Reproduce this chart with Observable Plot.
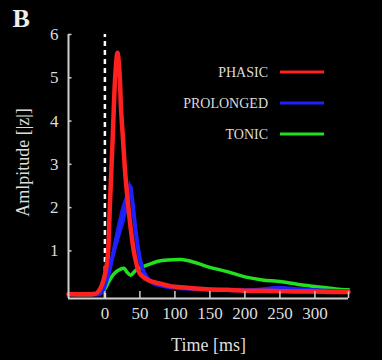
<!DOCTYPE html>
<html>
<head>
<meta charset="utf-8">
<script src="https://cdn.jsdelivr.net/npm/d3@7"></script>
<script src="https://cdn.jsdelivr.net/npm/@observablehq/plot@0.6"></script>
<style>
  html, body { margin: 0; padding: 0; background: #000; }
  #chart { width: 382px; height: 360px; overflow: hidden; }
  svg { display: block; }
</style>
</head>
<body>
<div id="chart"></div>
<script>
const phasicTime = [-52,-20,-12,-6,0,4,7,11,15,18,21,23,26,29,33,37,43,50,58,65,80,95,110,130,150,175,200,225,250,275,300,325,348];
const phasicValue = [0,0,0.02,0.15,0.45,0.85,2.0,3.55,5.1,5.58,5.1,4.3,3.55,2.8,2.1,1.5,0.85,0.47,0.36,0.3,0.24,0.18,0.16,0.13,0.11,0.1,0.08,0.08,0.07,0.06,0.06,0.05,0.05];
const prolongedTime = [-52,-20,-8,-3,0,5,10,15,20,25,30,34,36,39,43,47,51,56,62,70,80,100,150,200,230,249,265,290,320,348];
const prolongedValue = [0,0,0,0.08,0.2,0.45,0.8,1.15,1.45,1.75,2.0,2.3,2.5,2.2,1.6,1.1,0.75,0.5,0.35,0.25,0.2,0.15,0.11,0.09,0.12,0.15,0.13,0.1,0.08,0.07];
const prolongedSpread = [0,0,0,0,0.02,0.08,0.15,0.22,0.28,0.3,0.28,0.22,0.12,0.1,0.1,0.08,0.05,0.03,0.02,0,0,0,0,0,0,0,0,0,0,0];
const tonicTime = [-52,-10,-4,0,6,12,19,27,32,37,44,52,65,76,90,109,125,150,175,200,225,246,260,282,310,330,348];
const tonicValue = [0,0,0.05,0.12,0.3,0.45,0.55,0.6,0.5,0.44,0.55,0.62,0.7,0.76,0.79,0.8,0.75,0.62,0.52,0.4,0.33,0.3,0.27,0.21,0.16,0.12,0.1];

const seriesNames = ["PHASIC", "PROLONGED", "TONIC"];
const seriesColors = ["#ff2020", "#2020ff", "#20e020"];
const xTicks = [0,50,100,150,200,250,300];
const yTicks = [1,2,3,4,5,6];
const xLabel = "Time [ms]";
const yLabel = "Amlpitude [|z|]";
const panelLabel = "B";

const toRows = (name, ts, vs, es) => ts.map((t, i) => ({series: name, t, v: vs[i], lo: vs[i] - (es ? es[i] : 0), hi: vs[i] + (es ? es[i] : 0)}));
const phasicRows = toRows("PHASIC", phasicTime, phasicValue);
const prolongedRows = toRows("PROLONGED", prolongedTime, prolongedValue, prolongedSpread);
const tonicRows = toRows("TONIC", tonicTime, tonicValue);

const font = "'Liberation Serif', 'DejaVu Serif', serif";
const axisColor = "#cfcfcf";
const xMin = -52, xMax = 348, yMin = -0.1, yMax = 6;

const plot = Plot.plot({
  width: 382,
  height: 360,
  marginLeft: 68,
  marginRight: 34,
  marginTop: 34,
  marginBottom: 62,
  style: {background: "#000", color: "#ddd", fontFamily: font},
  x: {domain: [xMin, xMax]},
  y: {domain: [yMin, yMax]},
  color: {domain: seriesNames, range: seriesColors},
  marks: [
    Plot.ruleX([0], {y1: yMin, y2: yMax, stroke: "#fff", strokeWidth: 2.5, strokeDasharray: "5,4"}),
    Plot.line(tonicRows, {x: "t", y: "v", stroke: "series", strokeWidth: 3.5, curve: "catmull-rom"}),
    Plot.areaY(prolongedRows, {x: "t", y1: "lo", y2: "hi", fill: "series", fillOpacity: 0.9, curve: "catmull-rom"}),
    Plot.line(prolongedRows, {x: "t", y: "v", stroke: "series", strokeWidth: 4, curve: "catmull-rom"}),
    Plot.line(phasicRows, {x: "t", y: "v", stroke: "series", strokeWidth: 4.5, curve: "catmull-rom"}),
    Plot.ruleX([xMin], {y1: yMin, y2: yMax, stroke: axisColor, strokeWidth: 2}),
    Plot.ruleY([yMin], {x1: xMin, x2: xMax, stroke: axisColor, strokeWidth: 2}),
    Plot.ruleX([...xTicks, xMax], {y1: yMin, y2: yMin + 0.16, stroke: axisColor, strokeWidth: 1.5}),
    Plot.ruleY(yTicks, {x1: xMin, x2: xMin + 5, stroke: axisColor, strokeWidth: 1.5}),
    Plot.axisX(xTicks, {tickSize: 0, tickPadding: 8, fontSize: 17, fill: "#ddd", label: null}),
    Plot.axisY(yTicks, {tickSize: 0, tickPadding: 10, fontSize: 17, fill: "#ddd", label: null}),
    Plot.text([xLabel], {frameAnchor: "bottom", dy: 52, fontSize: 18, fill: "#ddd"}),
    Plot.text([yLabel], {frameAnchor: "left", textAnchor: "middle", rotate: -90, dx: -45, dy: -4, fontSize: 18, fill: "#ddd"}),
    Plot.text([panelLabel], {frameAnchor: "top-left", dx: -56, dy: -26, fontSize: 26, fontWeight: "bold", fill: "#eee"})
  ]
});

const svg = d3.select(plot);
seriesNames.forEach((name, i) => {
  const y = 72 + 31 * i;
  svg.append("text").attr("x", 268).attr("y", y).attr("dy", "0.35em")
    .attr("text-anchor", "end").attr("font-size", 14).attr("font-family", font)
    .attr("fill", "#ddd").text(name);
  svg.append("line").attr("x1", 280).attr("x2", 324).attr("y1", y).attr("y2", y)
    .attr("stroke", seriesColors[i]).attr("stroke-width", 3);
});

document.getElementById("chart").appendChild(plot);
</script>
</body>
</html>
